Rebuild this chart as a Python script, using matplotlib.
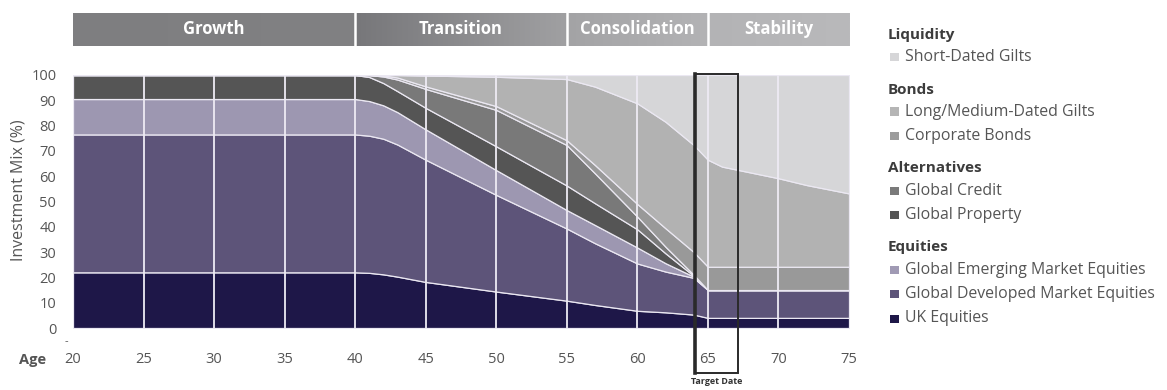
import numpy as np
import matplotlib
matplotlib.use("Agg")
import matplotlib.pyplot as plt
from matplotlib.colors import LinearSegmentedColormap
from matplotlib.patches import Rectangle

plt.rcParams['font.family'] = ['Open Sans', 'DejaVu Sans']

# Glide path: share of each asset (%) by age
ages = [20, 25, 30, 35, 40, 41, 42, 43, 45, 50, 55, 57, 60, 62, 64, 65, 66, 70, 72, 75]
uk_equities = [22, 22, 22, 22, 22, 21.8, 21.2, 20.3, 18.2, 14.4, 10.8, 9.1, 6.8, 6.2, 5.3, 4, 4, 4, 4, 4]
dev_equities = [54.5, 54.5, 54.5, 54.5, 54.5, 54.2, 53.6, 52.2, 48.3, 38.2, 28.5, 24.4, 18.7, 16.1, 14.5, 11, 11, 11, 11, 11]
em_equities = [14, 14, 14, 14, 14, 13.7, 13.2, 12.8, 12, 9.8, 7.3, 7.2, 6.3, 3.3, 0.5, 0, 0, 0, 0, 0]
global_property = [9.5, 9.5, 9.5, 9.5, 9.5, 9.5, 8.8, 8.3, 8.5, 9.4, 9.7, 8.6, 7.2, 3.9, 0.3, 0, 0, 0, 0, 0]
global_credit = [0, 0, 0, 0, 0, 0.8, 2.6, 4.6, 7.5, 14.4, 16, 11.8, 5, 2.6, 0.4, 0, 0, 0, 0, 0]
corporate_bonds = [0, 0, 0, 0, 0, 0, 0.4, 0.8, 1, 1.5, 1.9, 3.3, 5, 7.3, 9, 9.2, 9.2, 9.2, 9.2, 9.2]
long_gilts = [0, 0, 0, 0, 0, 0, 0.2, 1, 4.3, 11.6, 24.2, 31, 39.8, 42.1, 42.3, 42.3, 39.6, 35, 32.3, 29]
short_gilts = [0, 0, 0, 0, 0, 0, 0, 0, 0.2, 0.7, 1.6, 4.6, 11.2, 18.5, 27.7, 33.5, 36.2, 40.8, 43.5, 46.8]

layer_colors = ['#1e1748', '#5d5479', '#9d97b1', '#555555', '#797979',
                '#999999', '#b2b2b2', '#d6d6d8']

phases = ['Growth', 'Transition', 'Consolidation', 'Stability']
phase_edges = [20, 40, 55, 65, 75]
phase_shades = [('#7e7e80', '#818183'), ('#77777a', '#a0a0a2'),
                ('#a3a3a5', '#b3b3b5'), ('#b3b3b5', '#b9b9bb')]

legend_groups = [
    ('Liquidity', [('Short-Dated Gilts', '#d6d6d8')]),
    ('Bonds', [('Long/Medium-Dated Gilts', '#b5b5b5'), ('Corporate Bonds', '#9c9c9c')]),
    ('Alternatives', [('Global Credit', '#7a7a7a'), ('Global Property', '#555555')]),
    ('Equities', [('Global Emerging Market Equities', '#a09ab4'),
                  ('Global Developed Market Equities', '#5d5479'),
                  ('UK Equities', '#1e1748')]),
]

target_age = 65
target_span = (64.05, 67.15)

W, H = 1167, 390
fig = plt.figure(figsize=(W / 100, H / 100), dpi=100)
ax = fig.add_axes([73 / W, 1 - 328 / H, 776 / W, 253 / H])

ax.stackplot(ages, uk_equities, dev_equities, em_equities, global_property,
             global_credit, corporate_bonds, long_gilts, short_gilts,
             colors=layer_colors, edgecolor='#ebe8f2', linewidth=0.9, zorder=1)

xt = np.arange(20, 76, 5)
ax.vlines(xt[1:-1], 0, 100, color='#eeebf4', lw=1.3, zorder=2)
ax.set_xlim(20, 75)
ax.set_ylim(0, 100)
ax.set_xticks(xt)
ax.set_yticks(np.arange(0, 101, 10))
for s in ax.spines.values():
    s.set_visible(False)
ax.tick_params(axis='both', length=0, labelsize=10.5, labelcolor='#555555')
ax.tick_params(axis='x', pad=17)
ax.tick_params(axis='y', pad=12)

# target date box
x0, x1 = target_span
box = Rectangle((x0, -17.8), x1 - x0, 118.2, fill=False, ec='#2a2a2a',
                lw=1.4, clip_on=False, zorder=5)
ax.add_patch(box)
ax.plot([x0, x0], [-17.8, 100.4], color='#2a2a2a', lw=2.6, clip_on=False, zorder=5)
ax.text((x0 + x1) / 2, -21.2, 'Target Date', ha='center', va='center', fontsize=6.5,
        fontweight='bold', color='#333333')

fig.text(19 / W, 1 - 190 / H, 'Investment Mix (%)', rotation=90, ha='center',
         va='center', fontsize=11.5, color='#555555')
fig.text(33 / W, 1 - 360 / H, 'Age', ha='center', va='center', fontsize=10.5,
         fontweight='bold', color='#555555')
fig.text(66 / W, 1 - 342 / H, '-', ha='center', va='center', fontsize=8, color='#555555')

# phase header bands
hax = fig.add_axes([73 / W, 1 - 46 / H, 776 / W, 33 / H])
hax.set_xlim(20, 75)
hax.set_ylim(0, 1)
hax.axis('off')
grad = np.linspace(0, 1, 128).reshape(1, -1)
for i, name in enumerate(phases):
    a, b = phase_edges[i], phase_edges[i + 1]
    cmap = LinearSegmentedColormap.from_list(name, phase_shades[i])
    hax.imshow(grad, extent=(a, b, 0, 1), aspect='auto', cmap=cmap)
    if i > 0:
        hax.axvline(a, color='white', lw=1.8)
    hax.text((a + b) / 2, 0.5, name, ha='center', va='center', color='white',
             fontsize=12, fontweight='bold')
hax.set_xlim(20, 75)
hax.set_ylim(0, 1)

# grouped legend
y = 35
for heading, items in legend_groups:
    fig.text(888 / W, 1 - y / H, heading, ha='left', va='center', fontsize=11,
             fontweight='bold', color='#3c3c3c')
    y += 22
    for label, col in items:
        fig.patches.append(Rectangle((890 / W, 1 - (y + 4) / H), 9 / W, 8 / H,
                                     transform=fig.transFigure, fc=col, ec='none'))
        fig.text(905 / W, 1 - y / H, label, ha='left', va='center', fontsize=11.4,
                 color='#555555')
        y += 24.5
    y += 8

fig.savefig('out.png', dpi=100)
